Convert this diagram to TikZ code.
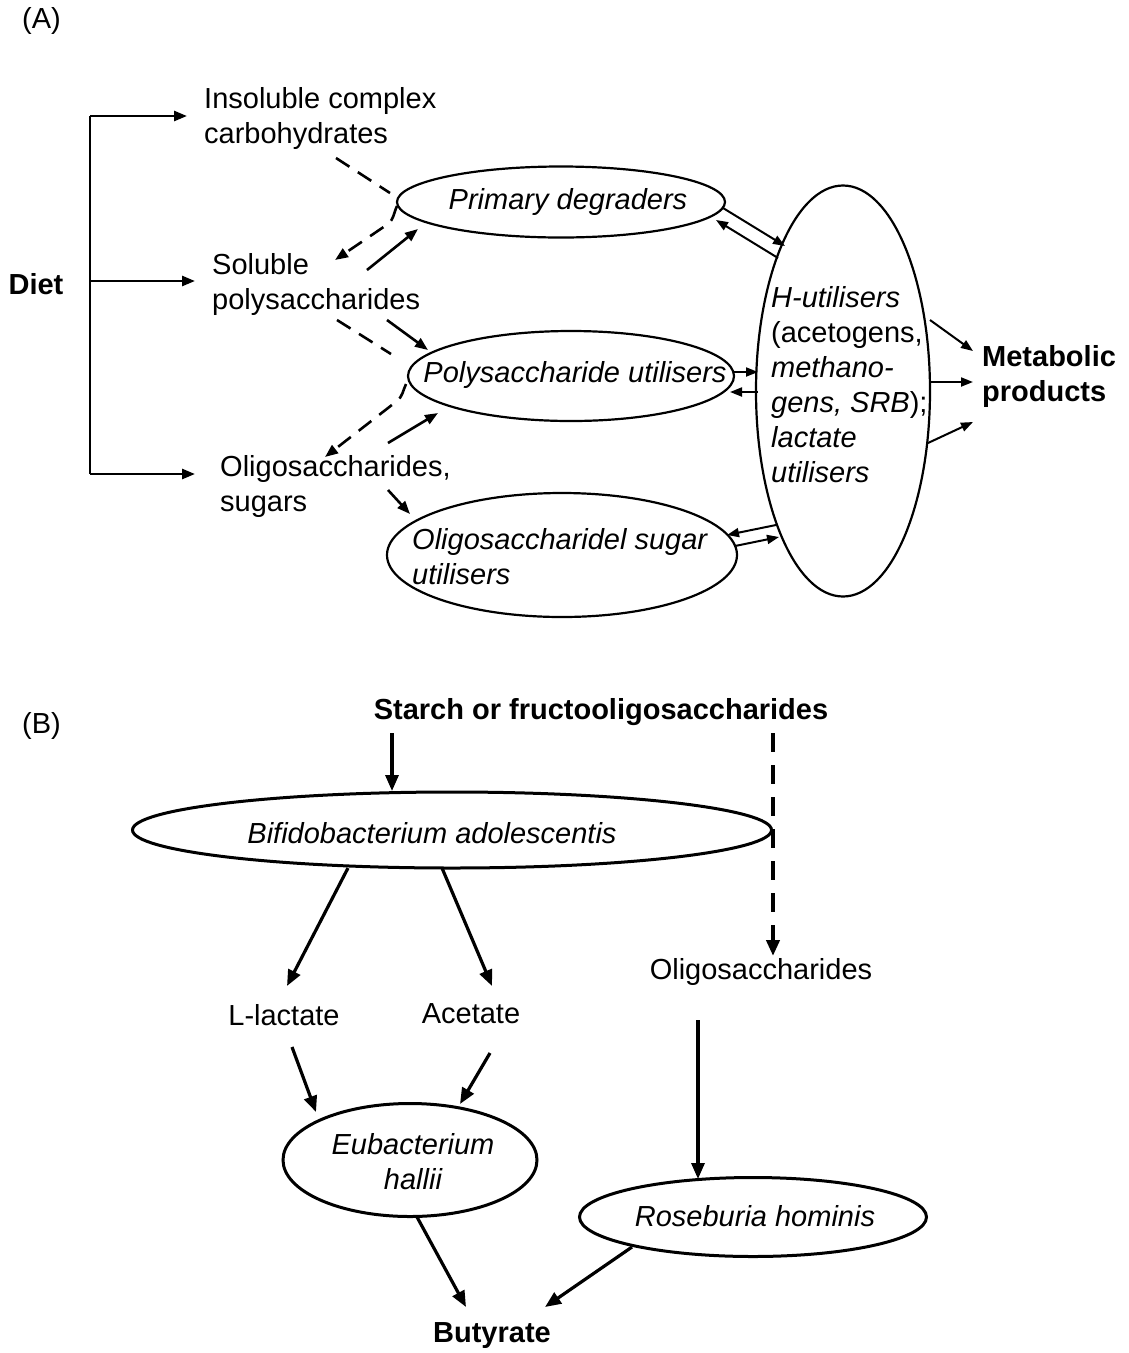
\documentclass[tikz,border=0pt]{standalone}
\usepackage{fontspec}
\setmainfont{Liberation Sans}
\usetikzlibrary{arrows.meta,shapes.geometric}
\newcommand\fsz{\fontsize{29}{35}\selectfont}
\begin{document}
\begin{tikzpicture}[x=1pt,y=-1pt,
  every node/.style={font=\fsz, inner sep=0pt},
  ell/.style={draw, ellipse, line width=2.2pt, inner sep=0pt},
  ellb/.style={draw, ellipse, line width=3pt, inner sep=0pt},
  arr/.style={-{Triangle[length=13pt,width=10pt]}, line width=2.6pt},
  thin arr/.style={-{Triangle[length=12pt,width=9pt]}, line width=2pt},
  arrb/.style={-{Triangle[length=16pt,width=13pt]}, line width=3.2pt},
  dsh/.style={line width=2.6pt, dash pattern=on 16pt off 10pt},
  dshb/.style={line width=4.5pt, dash pattern=on 19pt off 13pt},
  txt/.style={align=left, anchor=west},
  ittxt/.style={font=\fsz\itshape},
  bftxt/.style={font=\fsz\bfseries}]
\useasboundingbox (0,0) rectangle (1128,1353);

% ---------------- (A) ----------------
\node[anchor=west] (labA) at (22,21) {(A)};
\node[bftxt] (diet) at (36,284) {Diet};
\node[txt] (ins) at (204,118) {Insoluble complex\\carbohydrates};
\node[txt] (sol) at (212,284) {Soluble\\polysaccharides};
\node[txt] (oli) at (220,486) {Oligosaccharides,\\sugars};

\node[ell, minimum width=328pt, minimum height=71pt] (pd) at (561,202) {};
\node[ell, minimum width=326pt, minimum height=90pt] (pu) at (571,376) {};
\node[ell, minimum width=350pt, minimum height=124pt] (os) at (562,555) {};
\node[ell, minimum width=174pt, minimum height=411pt] (hu) at (843,391) {};

\node[ittxt] (pdt) at (568,202) {Primary degraders};
\node[ittxt] (put) at (575,375) {Polysaccharide utilisers};
\node[txt, ittxt] (ost) at (412,557) {Oligosaccharidel sugar\\utilisers};
\node[txt] (hut) at (771,385) {\textit{H-utilisers}\\(acetogens,\\\textit{methano-}\\\textit{gens, SRB});\\\textit{lactate}\\\textit{utilisers}};
\node[txt, bftxt] (mp) at (982,376) {Metabolic\\products};

% Diet bracket
\coordinate (d1) at (90,116);
\coordinate (d2) at (90,281);
\coordinate (d3) at (90,474);
\draw[line width=2.6pt] (d1) -- (d3);
\draw[arr] (d1) -- (d1 -| 187,0);
\draw[arr] (d2) -- (d2 -| 195,0);
\draw[arr] (d3) -- (d3 -| 195,0);

% dashed and solid arrows on the left
\coordinate (c1) at (336,158);
\coordinate (c2) at (390,193);
\draw[dsh] (c1) -- (c2);
\coordinate (c3) at (397,206);
\coordinate (c4) at (335,260);
\draw[dsh, -{Triangle[length=13pt,width=10pt]}] (c3) to[out=-115,in=40] (388,224) -- (c4);
\coordinate (s1) at (367,270);
\coordinate (s2) at (418,229);
\draw[arr] (s1) -- (s2);

\coordinate (c5) at (337,320);
\coordinate (c6) at (391,354);
\draw[dsh] (c5) -- (c6);
\coordinate (c7) at (406,384);
\coordinate (c8) at (325,457);
\draw[dsh, -{Triangle[length=13pt,width=10pt]}] (c7) to[out=-115,in=40] (397,401) -- (c8);
\coordinate (s3) at (387,320);
\coordinate (s4) at (428,350);
\draw[arr] (s3) -- (s4);
\coordinate (s5) at (388,443);
\coordinate (s6) at (438,413);
\draw[arr] (s5) -- (s6);
\coordinate (s7) at (388,490);
\coordinate (s8) at (410,514);
\draw[arr] (s7) -- (s8);

% exchanges with H-utilisers
\coordinate (p1) at (723,208);
\coordinate (p2) at (785,246);
\coordinate (p3) at (778,258);
\coordinate (p4) at (716,220);
\draw[thin arr] (p1) -- (p2);
\draw[thin arr] (p3) -- (p4);
\coordinate (q1) at (733,372);
\coordinate (q2) at (758,372);
\coordinate (q3) at (758,392);
\coordinate (q4) at (730,392);
\draw[thin arr] (q1) -- (q2);
\draw[thin arr] (q3) -- (q4);
\coordinate (r1) at (776,525);
\coordinate (r2) at (727,535);
\coordinate (r3) at (735,546);
\coordinate (r4) at (779,537);
\draw[thin arr] (r1) -- (r2);
\draw[thin arr] (r3) -- (r4);

% to metabolic products
\coordinate (m1) at (930,320);
\coordinate (m2) at (973,351);
\coordinate (m3) at (931,382);
\coordinate (m4) at (973,382);
\coordinate (m5) at (928,443);
\coordinate (m6) at (973,422);
\draw[thin arr] (m1) -- (m2);
\draw[thin arr] (m3) -- (m4);
\draw[thin arr] (m5) -- (m6);

% ---------------- (B) ----------------
\node[anchor=west] (labB) at (22,726) {(B)};
\node[bftxt] (sta) at (601,712) {Starch or fructooligosaccharides};
\node[ellb, minimum width=639pt, minimum height=76pt] (bif) at (452,830) {};
\node[ittxt] (bift) at (432,833) {Bifidobacterium adolescentis};
\node (ols) at (761,972) {Oligosaccharides};
\node (lac) at (284,1015) {L-lactate};
\node (ace) at (471,1014) {Acetate};
\node[ellb, minimum width=254pt, minimum height=113pt] (eub) at (410,1160) {};
\node[ittxt, align=center] (eubt) at (413,1162) {Eubacterium\\hallii};
\node[ellb, minimum width=347pt, minimum height=79pt] (ros) at (753,1217) {};
\node[ittxt] (rost) at (755,1216) {Roseburia hominis};
\node[bftxt] (but) at (492,1336) {Butyrate};

\coordinate (b1) at (392,733);
\coordinate (b2) at (392,791);
\draw[arrb] (b1) -- (b2);
\coordinate (b3) at (773,733);
\coordinate (b4) at (773,956);
\draw[dshb, -{Triangle[length=16pt,width=13pt]}] (b3) -- (b4);
\coordinate (b5) at (348,868);
\coordinate (b6) at (287,986);
\draw[arrb] (b5) -- (b6);
\coordinate (b7) at (442,868);
\coordinate (b8) at (492,986);
\draw[arrb] (b7) -- (b8);
\coordinate (b9) at (292,1047);
\coordinate (b10) at (316,1112);
\draw[arrb] (b9) -- (b10);
\coordinate (b11) at (490,1053);
\coordinate (b12) at (460,1104);
\draw[arrb] (b11) -- (b12);
\coordinate (b13) at (698,1020);
\coordinate (b14) at (698,1179);
\draw[arrb] (b13) -- (b14);
\coordinate (b15) at (417,1217);
\coordinate (b16) at (466,1307);
\draw[arrb] (b15) -- (b16);
\coordinate (b17) at (632,1247);
\coordinate (b18) at (545,1307);
\draw[arrb] (b17) -- (b18);
\end{tikzpicture}
\end{document}
